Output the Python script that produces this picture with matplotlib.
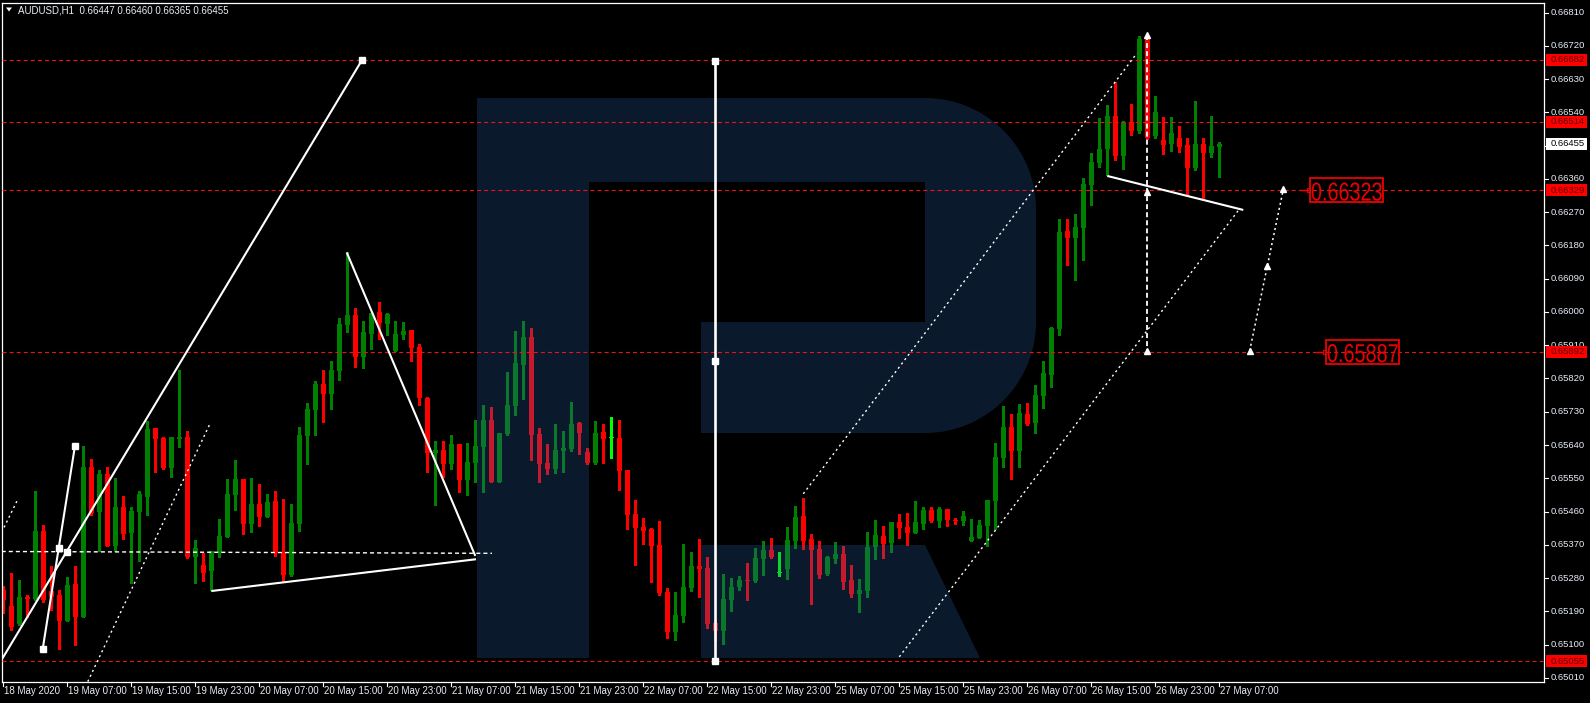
import numpy as np
import pandas as pd
import matplotlib
matplotlib.use("Agg")
import matplotlib.pyplot as plt
from matplotlib.patches import Rectangle, Polygon, PathPatch
from matplotlib.transforms import Affine2D, blended_transform_factory
from matplotlib.textpath import TextPath
from matplotlib.font_manager import FontProperties

plt.rcParams['lines.scale_dashes'] = False

# ---------------- data ----------------
symbol = "AUDUSD,H1"
start_time = "2020-05-18 23:00"
end_time = "2020-05-27 07:00"

opens = [0.65248,0.65204,0.65155,0.65229,0.65223,0.65407,0.65245,0.65234,0.65165,0.65264,
         0.65175,0.65580,0.65460,0.65562,0.65368,0.65472,0.65403,0.65460,0.65500,0.65686,
         0.65659,0.65579,0.65657,0.65662,0.65338,0.65316,0.65300,0.65351,0.65392,0.65505,
         0.65548,0.65427,0.65480,0.65446,0.65489,0.65351,0.65289,0.65425,0.65665,0.65735,
         0.65805,0.65778,0.65841,0.65965,0.65992,0.65878,0.65940,0.66000,0.65967,0.65894,
         0.65938,0.65951,0.65905,0.65767,0.65618,0.65626,0.65589,0.65643,0.65546,0.65592,
         0.65635,0.65708,0.65541,0.65671,0.65746,0.65857,0.65932,0.65670,0.65591,0.65576,
         0.65625,0.65629,0.65700,0.65621,0.65592,0.65675,0.65659,0.65659,0.65572,0.65453,
         0.65418,0.65414,0.65370,0.65242,0.65135,0.65178,0.65254,0.65313,0.65307,0.65159,
         0.65138,0.65221,0.65257,0.65275,0.65273,0.65332,0.65356,0.65293,0.65305,0.65381,
         0.65448,0.65386,0.65358,0.65291,0.65332,0.65345,0.65275,0.65237,0.65245,0.65364,
         0.65394,0.65375,0.65432,0.65418,0.65402,0.65426,0.65464,0.65435,0.65467,0.65437,
         0.65435,0.65380,0.65389,0.65421,0.65489,0.65605,0.65689,0.65624,0.65724,0.65700,
         0.65773,0.65830,0.65954,0.66219,0.66200,0.66227,0.66343,0.66403,0.66441,0.66530,
         0.66422,0.66514,0.66490,0.66738,0.66476,0.66465,0.66454,0.66471,0.66452,0.66389,
         0.66454,0.66430,0.66447]
highs = [0.65259,0.65294,0.65275,0.65234,0.65516,0.65424,0.65314,0.65248,0.65284,0.65313,
         0.65638,0.65602,0.65572,0.65580,0.65551,0.65502,0.65472,0.65516,0.65706,0.65686,
         0.65662,0.65662,0.65843,0.65678,0.65383,0.65349,0.65353,0.65440,0.65548,0.65600,
         0.65548,0.65551,0.65534,0.65508,0.65516,0.65494,0.65480,0.65689,0.65754,0.65814,
         0.65843,0.65868,0.65984,0.66161,0.66011,0.65976,0.65997,0.66027,0.65997,0.65976,
         0.65973,0.65951,0.65913,0.65771,0.65651,0.65651,0.65667,0.65643,0.65646,0.65708,
         0.65748,0.65743,0.65672,0.65838,0.65948,0.65976,0.65957,0.65686,0.65643,0.65697,
         0.65678,0.65756,0.65702,0.65632,0.65705,0.65697,0.65716,0.65708,0.65572,0.65491,
         0.65443,0.65415,0.65435,0.65253,0.65242,0.65372,0.65351,0.65386,0.65337,0.65168,
         0.65291,0.65280,0.65286,0.65321,0.65361,0.65380,0.65389,0.65351,0.65418,0.65475,
         0.65497,0.65399,0.65380,0.65340,0.65378,0.65367,0.65315,0.65277,0.65405,0.65437,
         0.65421,0.65432,0.65453,0.65456,0.65489,0.65472,0.65472,0.65472,0.65467,0.65443,
         0.65462,0.65440,0.65437,0.65491,0.65646,0.65746,0.65724,0.65751,0.65754,0.65802,
         0.65867,0.65959,0.66252,0.66252,0.66265,0.66362,0.66430,0.66525,0.66560,0.66622,
         0.66517,0.66563,0.66747,0.66747,0.66584,0.66527,0.66527,0.66503,0.66471,0.66571,
         0.66471,0.66530,0.66460]
lows = [0.65186,0.65139,0.65153,0.65175,0.65221,0.65216,0.65195,0.65087,0.65165,0.65099,
        0.65174,0.65451,0.65354,0.65368,0.65354,0.65387,0.65266,0.65327,0.65451,0.65568,
        0.65576,0.65554,0.65635,0.65335,0.65268,0.65273,0.65248,0.65338,0.65392,0.65464,
        0.65400,0.65404,0.65422,0.65446,0.65341,0.65270,0.65287,0.65408,0.65589,0.65667,
        0.65702,0.65738,0.65816,0.65947,0.65851,0.65848,0.65900,0.65927,0.65938,0.65894,
        0.65927,0.65867,0.65748,0.65568,0.65479,0.65554,0.65576,0.65514,0.65506,0.65541,
        0.65514,0.65541,0.65541,0.65668,0.65722,0.65765,0.65600,0.65541,0.65562,0.65565,
        0.65568,0.65625,0.65616,0.65589,0.65589,0.65592,0.65606,0.65519,0.65414,0.65316,
        0.65373,0.65270,0.65235,0.65119,0.65113,0.65162,0.65246,0.65230,0.65146,0.65113,
        0.65103,0.65192,0.65249,0.65221,0.65270,0.65289,0.65335,0.65286,0.65278,0.65362,
        0.65358,0.65210,0.65280,0.65288,0.65321,0.65250,0.65229,0.65188,0.65229,0.65332,
        0.65334,0.65351,0.65389,0.65370,0.65402,0.65413,0.65432,0.65418,0.65421,0.65426,
        0.65424,0.65380,0.65389,0.65367,0.65413,0.65580,0.65548,0.65580,0.65694,0.65672,
        0.65740,0.65797,0.65938,0.66127,0.66086,0.66141,0.66289,0.66392,0.66371,0.66411,
        0.66387,0.66479,0.66484,0.66468,0.66471,0.66427,0.66436,0.66433,0.66316,0.66384,
        0.66303,0.66419,0.66365]
closes = [0.65221,0.65148,0.65229,0.65223,0.65407,0.65221,0.65229,0.65165,0.65261,0.65175,
          0.65580,0.65457,0.65562,0.65368,0.65472,0.65400,0.65462,0.65508,0.65683,0.65657,
          0.65579,0.65662,0.65662,0.65338,0.65361,0.65295,0.65353,0.65395,0.65508,0.65548,
          0.65427,0.65480,0.65446,0.65486,0.65348,0.65289,0.65429,0.65667,0.65738,0.65805,
          0.65778,0.65843,0.65967,0.65992,0.65878,0.65946,0.65997,0.65970,0.65995,0.65940,
          0.65949,0.65902,0.65767,0.65618,0.65626,0.65589,0.65643,0.65546,0.65594,0.65637,
          0.65708,0.65541,0.65672,0.65748,0.65862,0.65932,0.65668,0.65589,0.65576,0.65626,
          0.65632,0.65697,0.65673,0.65592,0.65672,0.65657,0.65659,0.65570,0.65452,0.65416,
          0.65408,0.65368,0.65240,0.65135,0.65180,0.65256,0.65313,0.65305,0.65157,0.65138,
          0.65223,0.65256,0.65275,0.65272,0.65334,0.65356,0.65338,0.65293,0.65383,0.65445,
          0.65380,0.65356,0.65288,0.65337,0.65345,0.65269,0.65237,0.65248,0.65364,0.65397,
          0.65372,0.65432,0.65415,0.65402,0.65432,0.65464,0.65435,0.65467,0.65437,0.65435,
          0.65448,0.65391,0.65424,0.65491,0.65608,0.65689,0.65624,0.65727,0.65697,0.65775,
          0.65835,0.65957,0.66216,0.66200,0.66230,0.66346,0.66406,0.66441,0.66530,0.66422,
          0.66514,0.66490,0.66738,0.66471,0.66541,0.66452,0.66484,0.66446,0.66389,0.66454,
          0.66430,0.66449,0.66455]

price_ticks = [0.66810,0.66720,0.66630,0.66540,0.66450,0.66360,0.66270,0.66180,0.66090,0.66000,
               0.65910,0.65820,0.65730,0.65640,0.65550,0.65460,0.65370,0.65280,0.65190,0.65100,0.65010]
level_prices = [0.66682, 0.66514, 0.66329, 0.65892, 0.65055]
current_price = 0.66455
target_values = ["0.66323", "0.65887"]
target_levels = [0.66329, 0.65892]

# drawn analysis objects: (bar index, price)
solid_lines = [
    [(-0.1, 0.65063), (44.85, 0.66682)],
    [(4.93, 0.65089), (8.96, 0.65638)],
    [(42.93, 0.66161), (59.0, 0.65340)],
    [(26.0, 0.65245), (59.09, 0.65331)],
    [(138.0, 0.66368), (155.0, 0.66276)],
]
vertical_line = [(88.96, 0.66680), (88.96, 0.65055)]
square_points = [(44.85, 0.66682), (4.93, 0.65089), (8.96, 0.65638), (6.93, 0.65361),
                 (7.96, 0.65351), (88.96, 0.66680), (88.96, 0.658675), (88.96, 0.65055)]
dotted_lines = [
    [(-0.2, 0.65404), (1.875, 0.65496)],
    [(10.56, 0.65000), (25.93, 0.65702)],
    [(100.0, 0.65508), (141.7, 0.66700)],
    [(112.0, 0.65067), (154.6, 0.66281)],
]
dashed_hline = [(-0.2, 0.65352), (61.09, 0.65347)]
forecast_vertical = [(143.0, 0.66749), (143.0, 0.65895)]
forecast_path = [(155.8, 0.65895), (158.0, 0.66124), (160.0, 0.66332)]
arrow_points = [(143.0, 0.66749), (143.0, 0.66325), (143.0, 0.65895),
                (155.8, 0.65895), (158.0, 0.66124), (160.0, 0.66332)]

# ---------------- figure ----------------
W, H = 1590, 703
fig = plt.figure(figsize=(W / 100, H / 100), dpi=100, facecolor="black")
Tpx = Affine2D().scale(1 / W, -1 / H).translate(0, 1) + fig.transFigure

PL, PR, PT, PB = 2, 1544, 3, 681.7
ax = fig.add_axes([PL / W, 1 - PB / H, (PR - PL) / W, (PB - PT) / H])
ax.set_facecolor("black")
n = len(opens)
x = np.arange(n)
bar_px = 8.0
x0_px = 3.3
ax.set_xlim((PL - x0_px) / bar_px, (PR - x0_px) / bar_px)
ax.set_ylim(0.649997, 0.668359)
ax.set_xticks([]); ax.set_yticks([])
for s in ax.spines.values():
    s.set_color("white"); s.set_linewidth(0.9)

px_price = (0.668359 - 0.649997) / (PB - PT)

O = np.array(opens); Hh = np.array(highs); L = np.array(lows); C = np.array(closes)
wick_col, body_col = [], []
for o, c in zip(O, C):
    if abs(o - c) < 1e-6:
        wick_col.append("#00ff00"); body_col.append("#00ff00")
    elif c > o:
        wick_col.append("#008000"); body_col.append("#008000")
    else:
        wick_col.append("#ff0000"); body_col.append("#ff0000")
ax.vlines(x, L, Hh, colors=wick_col, lw=0.85, zorder=2, antialiased=False)
body_h = np.maximum(np.abs(C - O), px_price * 1.2)
ax.bar(x, body_h, bottom=np.minimum(O, C), width=0.66, color=body_col, lw=0, zorder=2.5)

# logo watermark (pixel geometry)
logo_rgb = (44 / 255, 96 / 255, 170 / 255)
logo_alpha = 0.27
r = 111
pts = [(589, 98), (925, 98)]
for t in np.linspace(-90, 0, 30):
    pts.append((925 + r * np.cos(np.radians(t)), 209 + r * np.sin(np.radians(t))))
for t in np.linspace(0, 90, 30):
    pts.append((925 + r * np.cos(np.radians(t)), 322 + r * np.sin(np.radians(t))))
pts += [(701, 433), (701, 322), (925, 322), (925, 182), (589, 182)]
shapes = [pts,
          [(477, 98), (589, 98), (589, 658), (477, 658)],
          [(701, 545), (925, 545), (980, 658), (701, 658)]]
for shp in shapes:
    ax.add_patch(Polygon(shp, closed=True, transform=Tpx, fc=logo_rgb, ec="none",
                         alpha=logo_alpha, zorder=3))

# horizontal red levels
for p in level_prices:
    ax.axhline(p, color="#e8141c", lw=0.8, dashes=(2.9, 2.2), zorder=4)

# white drawings
for seg in solid_lines:
    (xa, ya), (xb, yb) = seg
    ax.plot([xa, xb], [ya, yb], color="white", lw=1.5, zorder=6, solid_capstyle="butt")
(xa, ya), (xb, yb) = vertical_line
ax.plot([xa, xb], [ya, yb], color="white", lw=1.9, zorder=6)
for seg in dotted_lines:
    (xa, ya), (xb, yb) = seg
    ax.plot([xa, xb], [ya, yb], color="white", lw=1.0, dashes=(1.5, 2.4), zorder=6)
(xa, ya), (xb, yb) = dashed_hline
ax.plot([xa, xb], [ya, yb], color="white", lw=1.0, dashes=(2.9, 2.2), zorder=6)
(xa, ya), (xb, yb) = forecast_vertical
ax.plot([xa, xb], [ya, yb], color="white", lw=1.3, dashes=(3.6, 2.2), zorder=6)
fx, fy = zip(*forecast_path)
ax.plot(fx, fy, color="white", lw=1.1, dashes=(1.5, 2.2), zorder=6)
sx, sy = zip(*square_points)
ax.plot(sx, sy, ls="none", marker="s", ms=4, mfc="white", mec="white", zorder=7)
axp, ayp = zip(*arrow_points)
ax.plot(axp, ayp, ls="none", marker="^", ms=4.2, mfc="white", mec="white", zorder=7)

# ---------------- axes text ----------------
FONT = ["Liberation Sans", "DejaVu Sans"]
ylab_tr = blended_transform_factory(Tpx, ax.transData)
for p in price_ticks:
    fig.add_artist(plt.Line2D([1544, 1548], [p, p], transform=ylab_tr, color="white", lw=0.8))
    fig.text(1551, p, f"{p:.5f}", transform=ylab_tr, color="#e8eef6", fontsize=6.8,
             family=FONT, va="center", ha="left")
box_h = 12 * px_price
for p in level_prices:
    fig.add_artist(Rectangle((1546, p - box_h / 2), 41, box_h, transform=ylab_tr,
                             fc="#ff0000", ec="none", zorder=5))
    fig.text(1551, p, f"{p:.5f}", transform=ylab_tr, color="#5a0000", fontsize=6.8,
             family=FONT, va="center", ha="left", zorder=6)
fig.add_artist(Rectangle((1546, current_price - box_h / 2), 41, box_h, transform=ylab_tr,
                         fc="white", ec="none", zorder=5))
fig.text(1551, current_price, f"{current_price:.5f}", transform=ylab_tr, color="black",
         fontsize=6.8, family=FONT, va="center", ha="left", zorder=6)

rng = pd.date_range(start_time, end_time, freq="h")
times = rng[rng.dayofweek < 5]
xlab_tr = blended_transform_factory(ax.transData, Tpx)
for i in range(0, n, 8):
    t = times[i]
    lab = f"{t.day} {t:%b} {t.year}" if i == 0 else f"{t.day} {t:%b} {t:%H:%M}"
    fig.add_artist(plt.Line2D([i, i], [PB, PB + 4], transform=xlab_tr, color="white", lw=0.8))
    xp = x0_px + i * bar_px
    fig.text(xp + 1, 690.5, lab, transform=Tpx, color="#e8eef6", fontsize=7,
             family=FONT, va="center", ha="left")

# header
fig.add_artist(Polygon([(6, 7.5), (12, 7.5), (9, 11.5)], closed=True, transform=Tpx,
                       fc="white", ec="none"))
fig.text(18, 10.5, f"{symbol}  {opens[-1]:.5f} {highs[-1]:.5f} {lows[-1]:.5f} {closes[-1]:.5f}",
         transform=Tpx, color="#e8eef6", fontsize=7, family=FONT, va="center", ha="left")

# big target labels
box_x = [1310, 1326]
for txt, lvl, bx in zip(target_values, target_levels, box_x):
    yc = PT + (0.668359 - lvl) / px_price
    fig.add_artist(Rectangle((bx, yc - 12), 73, 24, transform=Tpx, fc="none",
                             ec="#ee0000", lw=1.3))
    fig.add_artist(plt.Line2D([bx - 10, bx - 3], [yc, yc], transform=Tpx, color="#ee0000", lw=1.0))
    fig.add_artist(Rectangle((bx - 3.5, yc - 2), 3.5, 4, transform=Tpx, fc="none",
                             ec="#ee0000", lw=0.8))
    tp = TextPath((0, 0), txt, size=1, prop=FontProperties(family="Liberation Sans"))
    bb = tp.get_extents()
    sxf = 70.0 / bb.width
    syf = 18.3 / bb.height
    tr = Affine2D().translate(-bb.x0, -bb.y0).scale(sxf, -syf).translate(bx + 1.7, yc + 10.4) + Tpx
    fig.add_artist(PathPatch(tp, transform=tr, fc="#ee0000", ec="none"))

fig.savefig("out.png", dpi=100, facecolor="black")
